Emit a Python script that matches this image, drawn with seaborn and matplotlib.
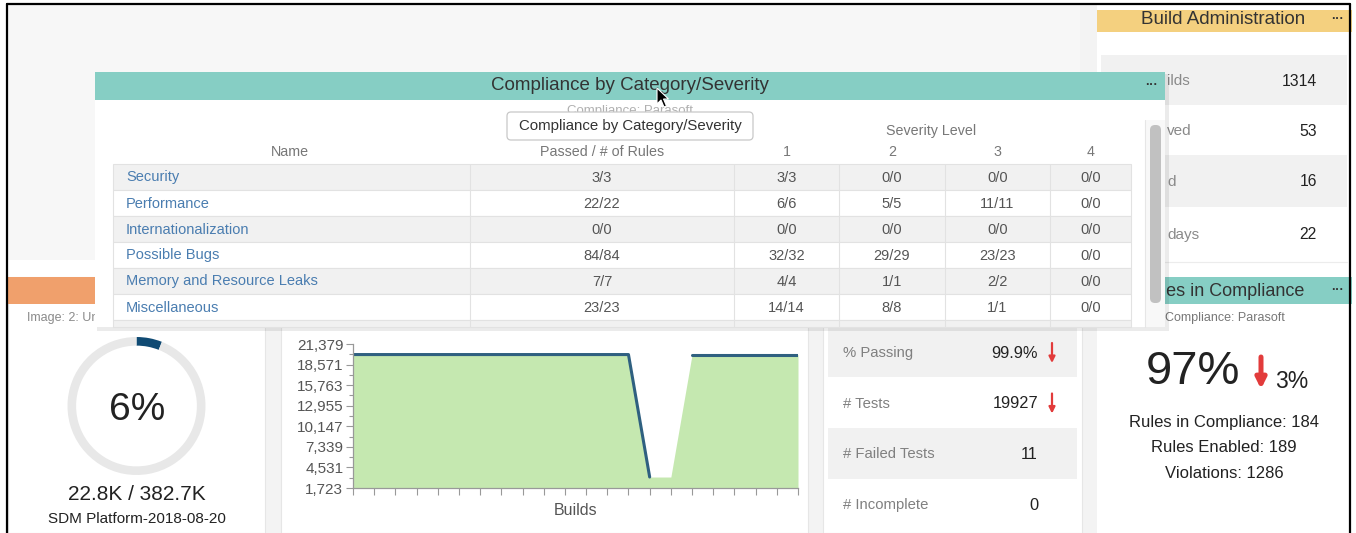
import numpy as np
import pandas as pd
import matplotlib
matplotlib.use("Agg")
import matplotlib.pyplot as plt
import seaborn as sns
from matplotlib.patches import Rectangle, FancyBboxPatch, Polygon

# ---------------- data ----------------
categories = ["Security", "Performance", "Internationalization", "Possible Bugs",
              "Memory and Resource Leaks", "Miscellaneous"]
passed_rules = ["3/3", "22/22", "0/0", "84/84", "7/7", "23/23"]
sev1 = ["3/3", "6/6", "0/0", "32/32", "4/4", "14/14"]
sev2 = ["0/0", "5/5", "0/0", "29/29", "1/1", "8/8"]
sev3 = ["0/0", "11/11", "0/0", "23/23", "2/2", "1/1"]
sev4 = ["0/0", "0/0", "0/0", "0/0", "0/0", "0/0"]
table_headers = ["Name", "Passed / # of Rules", "1", "2", "3", "4"]

build_index = list(range(22))
tests_total = [19938] * 14 + [3222, 3222] + [19938] * 6
tests_line = [19938] * 14 + [3222, np.nan] + [19938] * 6
y_ticks = [1723, 4531, 7339, 10147, 12955, 15763, 18571, 21379]

coverage_pct = [6, 94]
coverage_text = "22.8K / 382.7K"
coverage_label = "SDM Platform-2018-08-20"

stat_labels = ["% Passing", "# Tests", "# Failed Tests", "# Incomplete"]
stat_values = ["99.9%", "19927", "11", "0"]
stat_down = [True, True, False, False]

# the visible parts of the Build Administration labels (rest is behind the popup)
admin_labels = ["ilds", "ved", "d", "days"]
admin_values = ["1314", "53", "16", "22"]

compliance_pct = 97
compliance_delta = 3
rules_in_compliance = 184
rules_enabled = 189
violations = 1286

# ---------------- style ----------------
sns.set_theme(style="ticks")
plt.rcParams['font.family'] = ['Liberation Sans', 'DejaVu Sans']

W, H = 1356, 533
fig = plt.figure(figsize=(W / 100, H / 100), dpi=100)
fig.patch.set_facecolor("white")
bg = fig.add_axes([0, 0, 1, 1])
bg.set_xlim(0, W)
bg.set_ylim(H, 0)
bg.axis("off")

TEAL = "#86cec4"
YELLOW = "#f4d07f"
ORANGE = "#f0a06c"
ROWGRAY = "#f1f1f1"

# clip regions for texts partly hidden behind the popup
clip_right = Rectangle((1165, 0), 200, 533, transform=bg.transData)
clip_left = Rectangle((0, 0), 95, 533, transform=bg.transData)


def box(x0, y0, x1, y1, fc, z=1, ec="none", lw=0, alpha=1):
    bg.add_patch(Rectangle((x0, y0), x1 - x0, y1 - y0, facecolor=fc, edgecolor=ec,
                           linewidth=lw, zorder=z, alpha=alpha))


def label(x, y, s, size, color="#333", ha="center", va="center", z=3, clip=None, **kw):
    t = bg.text(x, y, s, fontsize=size, color=color, ha=ha, va=va, zorder=z, **kw)
    if clip is not None:
        t.set_clip_path(clip)
    return t


def dots(x, y, z=3):
    label(x, y - 1, "···", 9, "#333", z=z, fontweight="bold")


def down_arrow(x, y0, y1, lw, ms, z=3):
    bg.annotate("", xy=(x, y1), xytext=(x, y0), zorder=z,
                arrowprops=dict(arrowstyle="-|>", color="#e23b3b", lw=lw,
                                mutation_scale=ms, shrinkA=0, shrinkB=0))


# ---------------- background / frame ----------------
box(8, 5, 1080, 260, "#f7f7f7", z=0)
box(1080, 5, 1097, 533, "#f3f3f3", z=0)
box(8, 260, 1080, 533, "#f3f3f3", z=0)
box(8, 260, 1080, 277, "white", z=0.5)
bg.plot([7, 7], [4, 533], color="black", lw=1.6, zorder=10)
bg.plot([7, 1350], [4, 4], color="black", lw=1.6, zorder=10)
bg.plot([1350, 1350], [4, 533], color="black", lw=1.6, zorder=10)

# ---------------- bottom panels ----------------
for (x0, x1) in [(8, 265), (281, 808), (823, 1082)]:
    box(x0, 277, x1, 533, "white", z=1, ec="#e6e6e6", lw=0.8)
box(8, 277, 265, 304, ORANGE, z=1.2)
label(27, 318, "Image: 2: Unit Test Coverage", 9, "#8a8a8a", ha="left", clip=clip_left)

# coverage donut
dax = fig.add_axes([(136.5 - 69) / W, (H - 406 - 69) / H, 138 / W, 138 / H])
dax.pie(coverage_pct, colors=["#0f4a73", "#e8e8e8"], startangle=90, counterclock=False,
        radius=1, wedgeprops=dict(width=0.125, edgecolor="none"))
dax.set_xlim(-1, 1)
dax.set_ylim(-1, 1)
dax.set_aspect("equal")
dax.axis("off")
label(137, 410, f"{coverage_pct[0]}%", 28, "#222")
label(137, 494, coverage_text, 15, "#222")
label(137, 519, coverage_label, 11, "#222")

# stats panel
stat_rows = [(327, 377), (377, 428), (428, 479), (479, 530)]
for i, (y0, y1) in enumerate(stat_rows):
    if i % 2 == 0:
        box(828, y0, 1077, y1, ROWGRAY, z=1.5)
    yc = (y0 + y1) / 2 + 1
    label(843, yc, stat_labels[i], 10.7, "#808080", ha="left")
    label(1038, yc, stat_values[i], 11.8, "#222", ha="right")
    if stat_down[i]:
        down_arrow(1052, yc - 10, yc + 10, 1.6, 9)

# ---------------- right column ----------------
box(1097, 10, 1352, 265, "white", z=1)
box(1097, 10, 1352, 32, YELLOW, z=1.2)
label(1223, 20, "Build Administration", 13.5, "#333")
dots(1338, 20)
admin_rows = [(55, 105), (105, 155), (155, 207), (207, 260)]
for i, (y0, y1) in enumerate(admin_rows):
    if i % 2 == 0:
        box(1101, y0, 1347, y1, ROWGRAY, z=1.5)
    yc = (y0 + y1) / 2 + 1
    label(1167, yc, admin_labels[i], 11, "#8a8a8a", ha="left")
    label(1317, yc, admin_values[i], 11.3, "#222", ha="right")
bg.plot([1101, 1347], [262, 262], color="#ececec", lw=0.8, zorder=1.5)

box(1097, 277, 1352, 533, "white", z=1)
box(1097, 277, 1352, 304, TEAL, z=1.2)
label(1222, 291, "Rules in Compliance", 13, "#333", clip=clip_right)
dots(1338, 291)
label(1225, 318, "Compliance: Parasoft", 9, "#777", clip=clip_right)
label(1193, 372, f"{compliance_pct}%", 34, "#222")
down_arrow(1261, 357, 389, 3.6, 15)
label(1292, 382, f"{compliance_delta}%", 16.5, "#222")
label(1224, 422, f"Rules in Compliance: {rules_in_compliance}", 12, "#222")
label(1224, 448, f"Rules Enabled: {rules_enabled}", 12, "#222")
label(1224, 474, f"Violations: {violations}", 12, "#222")

# ---------------- popup ----------------
box(97, 74, 1169, 331, "#000000", z=5, alpha=0.08)
box(95, 72, 1165, 327, "white", z=6)
box(95, 72, 1165, 100, TEAL, z=6.5)
label(630, 86, "Compliance by Category/Severity", 13.5, "#333", z=7)
dots(1152, 86, z=7)
label(630, 111, "Compliance: Parasoft", 9.5, "#b0b0b0", z=7)
bg.add_patch(FancyBboxPatch((507, 112), 246, 28, boxstyle="round,pad=0,rounding_size=4",
                            facecolor="white", edgecolor="#c8c8c8", lw=0.9, zorder=8))
label(630, 126, "Compliance by Category/Severity", 10.8, "#333", z=8.5)
label(931, 131, "Severity Level", 10.3, "#777", z=7)

col_edges = [113, 470, 734, 839, 945, 1050, 1131]
col_centers = [290] + [(col_edges[k] + col_edges[k + 1]) / 2 for k in range(1, 6)]
for k, h in enumerate(table_headers):
    label(col_centers[k], 152, h, 10.3, "#777", z=7)

row_top, row_h = 164, 26
columns = [passed_rules, sev1, sev2, sev3, sev4]
for i, name in enumerate(categories):
    y0 = row_top + row_h * i
    fc = ROWGRAY if i % 2 == 0 else "white"
    box(113, y0, 1131, y0 + row_h, fc, z=6.8, ec="#e2e2e2", lw=0.8)
    yc = y0 + row_h / 2 + 0.5
    label(126, yc, name, 10.5, "#4a7db0", ha="left", z=7)
    for k, col in enumerate(columns):
        label(col_centers[k + 1], yc, col[i], 10.5, "#555", z=7)
box(113, row_top + row_h * len(categories), 1131, 327, ROWGRAY, z=6.8, ec="#e2e2e2", lw=0.8)
for xe in col_edges[1:-1]:
    bg.plot([xe, xe], [row_top, 327], color="#e2e2e2", lw=0.8, zorder=6.9)

# scrollbar
box(1145, 120, 1165, 327, "#f8f8f8", z=6.9)
bg.plot([1145, 1145], [120, 327], color="#e6e6e6", lw=0.8, zorder=6.95)
bg.add_patch(FancyBboxPatch((1150, 125), 11, 178, boxstyle="round,pad=0,rounding_size=5",
                            facecolor="#c1c1c1", edgecolor="none", zorder=7))

# mouse cursor
cx, cy = 657, 88
cursor = np.array([(0, 0), (0, 16), (4, 12), (7, 19), (9.5, 18), (6.5, 11), (11.5, 11)])
bg.add_patch(Polygon(cursor + [cx, cy], closed=True, facecolor="black", edgecolor="white",
                     lw=0.8, zorder=9))

# ---------------- area chart ----------------
ax = fig.add_axes([353 / W, (H - 488) / H, (798 - 353) / W, (488 - 344) / H])
ax.set_facecolor("none")
df = pd.DataFrame({"build": build_index, "tests": tests_line})
df["segment"] = np.cumsum(np.isnan(tests_line))
ax.fill_between(build_index, y_ticks[0], tests_total, color="#c5e8b0", lw=0, zorder=1)
sns.lineplot(data=df.dropna(), x="build", y="tests", units="segment", estimator=None,
             color="#2f6080", lw=2.2, ax=ax, zorder=2)
ax.set_xlim(build_index[0], build_index[-1])
ax.set_ylim(y_ticks[0], y_ticks[-1])
ax.set_xticks(build_index)
ax.set_xticklabels([])
ax.set_yticks(y_ticks)
ax.set_yticklabels([f"{v:,}" for v in y_ticks])
ax.set_yticks([(a + b) / 2 for a, b in zip(y_ticks[:-1], y_ticks[1:])], minor=True)
ax.set_ylabel("")
ax.set_xlabel("Builds", fontsize=11.5, color="#555", labelpad=4)
for s in ["top", "right"]:
    ax.spines[s].set_visible(False)
for s in ["left", "bottom"]:
    ax.spines[s].set_color("#999")
    ax.spines[s].set_linewidth(0.9)
ax.tick_params(axis="both", which="major", length=5, width=0.8, color="#999",
               labelsize=11, labelcolor="#555", pad=2, bottom=True, left=True)
ax.tick_params(axis="y", which="minor", length=3, width=0.8, color="#999", left=True)

fig.savefig("out.png", dpi=100, facecolor="white")
